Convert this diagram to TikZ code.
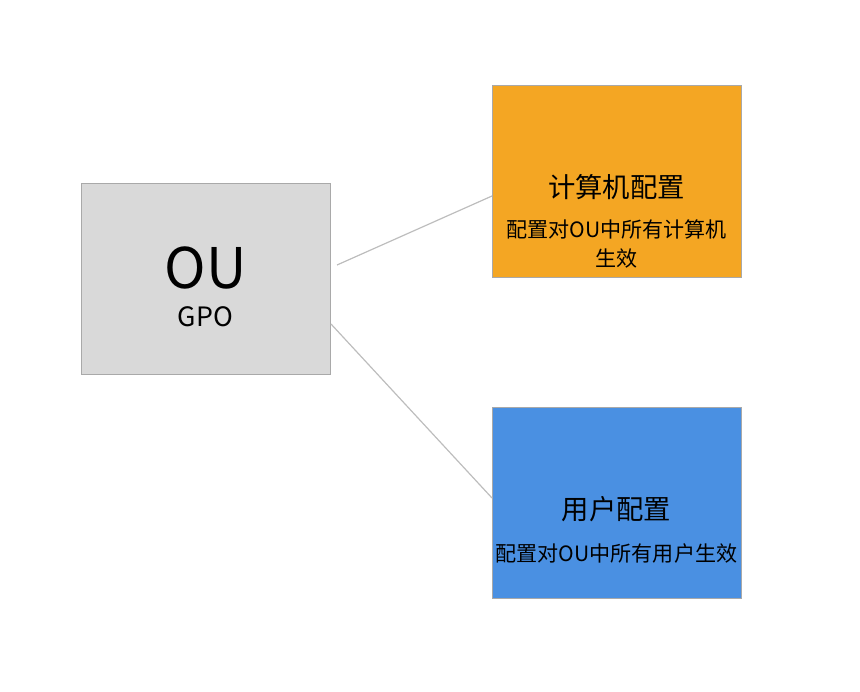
\documentclass[tikz,border=0pt]{standalone}
\usepackage{fontspec}
\setmainfont{Noto Sans CJK SC}
\usetikzlibrary{calc}

\definecolor{ougray}{HTML}{D9D9D9}
\definecolor{panelline}{HTML}{A9A9A9}
\definecolor{pcorange}{HTML}{F4A623}
\definecolor{userblue}{HTML}{4A90E2}
\definecolor{linkgray}{HTML}{BDBDBD}

\begin{document}
\begin{tikzpicture}[
  x=0.75pt, y=-0.75pt,
  panel/.style={draw=panelline, line width=0.75pt, inner sep=0pt, outer sep=0pt,
    minimum width=186.75pt, minimum height=143.25pt},
  title/.style={font=\fontsize{20.5}{24}\selectfont, inner sep=0pt},
  desc/.style={font=\fontsize{15.8}{21.75}\selectfont, align=center, inner sep=0pt},
  link/.style={draw=linkgray, line width=0.9pt}
]
\useasboundingbox (0,0) rectangle (860,692);

\node[panel, fill=ougray] (ou) at (205.5,278.5) {};
\node[panel, fill=pcorange] (pc) at (616.5,181.5) {};
\node[panel, fill=userblue] (user) at (616.5,502.5) {};

\node[inner sep=0pt, font=\fontsize{42}{48}\selectfont] (oulabel) at (205.5,268) {OU};
\node[inner sep=0pt, font=\fontsize{20}{24}\selectfont] (gpo) at (205.5,317) {GPO};

\node[title] (pctitle) at (616.5,187) {计算机配置};
\node[desc] (pcdesc) at (616.5,243.5) {配置对OU中所有计算机\\生效};
\node[title] (usertitle) at (616.5,509) {用户配置};
\node[desc] (userdesc) at (616.5,553) {配置对OU中所有用户生效};

\coordinate (a) at ($(ou.east)+(7,-13.5)$);
\coordinate (b) at ($(ou.east)+(1,45.5)$);
\draw[link] (a) -- ($(pc.west)+(0,14.5)$);
\draw[link] (b) -- ($(user.west)+(0,-4.5)$);
\end{tikzpicture}
\end{document}
